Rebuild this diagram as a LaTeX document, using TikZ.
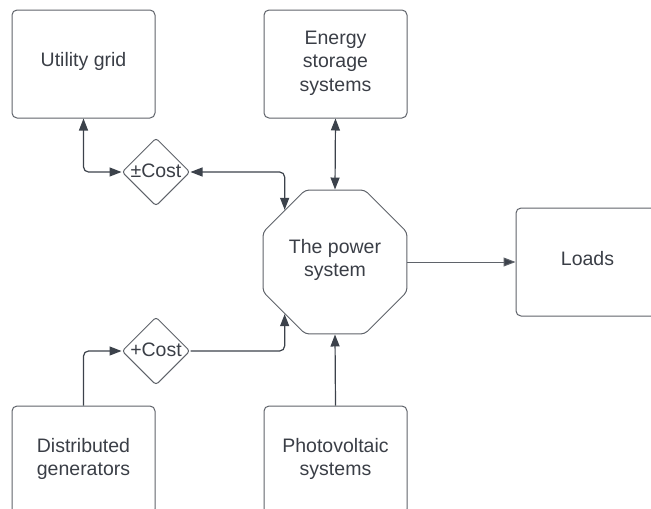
\documentclass[tikz,border=0pt]{standalone}
\usepackage{fontspec}
\setmainfont{Liberation Sans}
\usetikzlibrary{shapes.geometric,arrows.meta}
\definecolor{txt}{RGB}{58,62,70}
\definecolor{bord}{RGB}{95,99,106}
\definecolor{arr}{RGB}{60,66,75}
\begin{document}
\begin{tikzpicture}[x=1pt,y=-1pt,
  lbl/.style={text=txt, font=\fontsize{19.5}{23.5}\selectfont, align=center},
  boxbase/.style={draw=bord, line width=1pt, rounded corners=5pt, minimum width=143pt, minimum height=108pt, inner sep=0pt},
  box/.style={boxbase, label={[lbl,yshift=1pt]center:{#1}}},
  boxone/.style={boxbase, label={[lbl,yshift=3pt]center:{#1}}},
  dia/.style={diamond, draw=bord, line width=1pt, rounded corners=3pt, minimum width=68pt, minimum height=68pt, inner sep=0pt, label={[lbl,yshift=1.5pt]center:{#1}}},
  oct/.style={regular polygon, regular polygon sides=8, draw=bord, line width=1pt, rounded corners=4pt, minimum size=155.8pt, inner sep=0pt, label={[lbl,yshift=2pt]center:{#1}}},
  conn/.style={draw=arr, line width=1.2pt, rounded corners=5pt},
  thin/.style={draw=bord, line width=1pt},
  >={Triangle[length=12pt,width=9pt]}]
\useasboundingbox (0,0) rectangle (651,509);
\clip (0,0) rectangle (651,509);
\node[boxone={Utility grid}] (ug) at (83.5,64) {};
\node[box={Energy\\storage\\systems}] (es) at (335.5,64) {};
\node[box={Distributed\\generators}] (dg) at (83.5,460) {};
\node[box={Photovoltaic\\systems}] (pv) at (335.5,460) {};
\node[boxone={Loads}] (ld) at (587.5,262) {};
\node[oct={The power\\system}] (ps) at (335,262) {};
\node[dia={±Cost}] (pc) at (156,172) {};
\node[dia={+Cost}] (pp) at (156,351) {};
\draw[conn,<->] (ug.south) |- (pc.west);
\draw[conn,<->] (pc.east) -| (ps.134);
\draw[conn,<->] (es.south) -- (ps.north);
\draw[conn,->] (dg.north) |- (pp.west);
\draw[conn,->] (pp.east) -| (ps.226);
\draw[conn,->] (pv.north) -- (ps.south);
\draw[thin,-{Triangle[length=12pt,width=9pt,fill=arr]}] (ps.east) -- (ld.west);
\end{tikzpicture}
\end{document}
